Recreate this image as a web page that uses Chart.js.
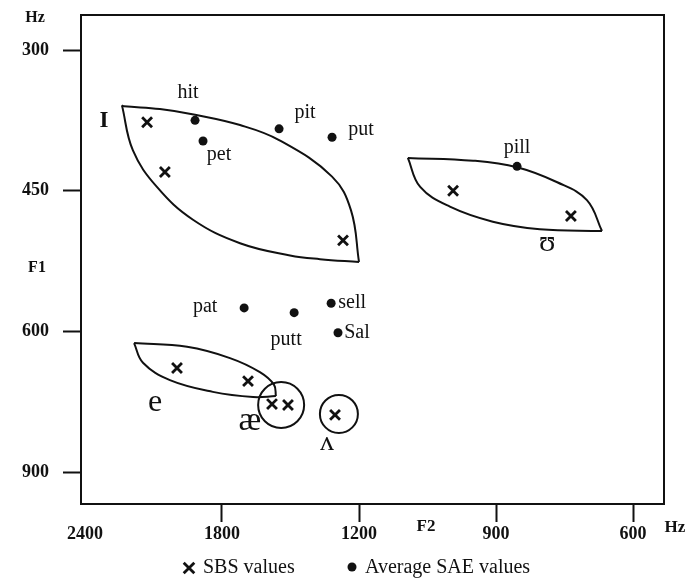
<!DOCTYPE html>
<html>
<head>
<meta charset="utf-8">
<script src="https://cdn.jsdelivr.net/npm/chart.js@4/dist/chart.umd.min.js"></script>
<style>
html,body{margin:0;padding:0;background:#fff;}
#c{display:block;}
</style>
</head>
<body>
<canvas id="c" width="692" height="578"></canvas>
<script>
// ---- axis tick values (Hz) ----
const F2_TICKS = [2400, 1800, 1200, 900, 600];
const F1_TICKS = [300, 450, 600, 900];

// ---- Average SAE values (dots) ----
const SAE_WORDS = ['hit', 'pet', 'pit', 'put', 'pill', 'pat', 'putt', 'sell', 'Sal'];
const SAE_F2 = [1918, 1883, 1550, 1318, 854, 1703, 1484, 1322, 1292];
const SAE_F1 = [375, 397, 384, 393, 424, 575, 580, 570, 603];

// ---- SBS values (x marks) ----
const SBS_F2 = [2128, 2050, 1270, 994, 736, 1997, 1686, 1581, 1511, 1305];
const SBS_F1 = [377, 430, 503, 450, 477, 678, 706, 755, 757, 778];

// ---- vowel symbols and where they sit (Hz) ----
const VOWELS = ['I', 'ʊ', 'e', 'æ', 'ʌ'];
const VOWEL_F2 = [2317, 788, 2093, 1678, 1340];
const VOWEL_F1 = [376, 506, 751, 791, 838];

// ---- vowel-area outlines [F2, F1] ----
const I_UPPER = [[2238,359],[2229,360],[2072,363],[1918,369],[1721,380],[1550,396],[1318,435],[1235,471],[1200,526]];
const I_LOWER = [[2238,359],[2190,407],[2085,446],[1927,481],[1721,506],[1502,519],[1371,523],[1200,526]];
const U_UPPER = [[1093,415],[950,418],[854,425],[766,441],[701,460],[668,493]];
const U_LOWER = [[1093,415],[1066,446],[1001,467],[907,483],[804,491],[668,493]];
const E_UPPER = [[2185,625],[1953,633],[1765,657],[1634,687],[1572,714],[1564,738]];
const E_LOWER = [[2185,625],[2146,667],[2028,704],[1840,729],[1664,740],[1564,738]];
const RING_F2 = [1541, 1288];   // æ and ʌ circles
const RING_F1 = [757, 776];

// ---- map Hz onto the evenly spaced tick positions of the original plot ----
function pos(v, ticks) {
  for (let i = 0; i < ticks.length - 1; i++) {
    const a = ticks[i], b = ticks[i + 1];
    if (v >= Math.min(a, b) && v <= Math.max(a, b)) return i + (v - a) / (b - a);
  }
  if ((ticks[1] - ticks[0]) * (v - ticks[0]) < 0) return (v - ticks[0]) / (ticks[1] - ticks[0]);
  const n = ticks.length - 1;
  return n + (v - ticks[n]) / (ticks[n] - ticks[n - 1]);
}
const toX = v => pos(v, F2_TICKS);
const toY = v => pos(v, F1_TICKS);
const pts = (f2, f1) => f2.map((v, i) => ({x: toX(v), y: toY(f1[i])}));
const path = arr => arr.map(([a, b]) => ({x: toX(a), y: toY(b)}));

const SERIF = '"Liberation Serif", "DejaVu Serif", "Times New Roman", serif';
const INK = '#111';

const outline = arr => ({
  label: '', data: path(arr), showLine: true, tension: 0.4,
  pointRadius: 0, borderColor: INK, borderWidth: 2, fill: false
});

// label offsets (px) for the word labels
const LABEL_DX = [-7, 16, 26, 29, 0, -39, -8, 21, 19];
const LABEL_DY = [-28, 14, -16, -8, -19, -1, 27, -1, 0];
const VOWEL_FONT = ['bold 23px', '30px', '32px', '34px', '28px'];

const framePlugin = {
  id: 'frame',
  beforeDatasetsDraw(chart) {
    const {ctx, chartArea: a} = chart;
    ctx.save();
    ctx.strokeStyle = INK;
    ctx.lineWidth = 2;
    ctx.strokeRect(a.left, a.top, a.right - a.left, a.bottom - a.top);
    ctx.restore();
  }
};

const textPlugin = {
  id: 'texts',
  afterDatasetsDraw(chart) {
    const {ctx, scales: {x, y}} = chart;
    ctx.save();
    ctx.fillStyle = INK;
    ctx.strokeStyle = INK;
    ctx.textAlign = 'center';
    ctx.textBaseline = 'middle';
    ctx.font = '20px ' + SERIF;
    SAE_WORDS.forEach((w, i) => {
      const px = x.getPixelForValue(toX(SAE_F2[i]));
      const py = y.getPixelForValue(toY(SAE_F1[i]));
      ctx.fillText(w, px + LABEL_DX[i], py + LABEL_DY[i]);
    });
    VOWELS.forEach((s, i) => {
      ctx.font = VOWEL_FONT[i] + ' ' + SERIF;
      ctx.fillText(s, x.getPixelForValue(toX(VOWEL_F2[i])), y.getPixelForValue(toY(VOWEL_F1[i])));
    });
    // axis titles
    ctx.font = 'bold 16px ' + SERIF;
    ctx.fillText('Hz', 35, 18);
    ctx.fillText('F1', 37, 268);
    ctx.font = 'bold 17px ' + SERIF;
    ctx.fillText('F2', 426, 527);
    ctx.fillText('Hz', 675, 528);
    // legend
    const ly = 568;
    ctx.font = '20px ' + SERIF;
    ctx.textAlign = 'left';
    ctx.lineWidth = 2.8;
    Chart.helpers.drawPoint(ctx, {pointStyle: 'crossRot', radius: 7.5, borderWidth: 2.8}, 189, ly);
    ctx.fillText('SBS values', 203, ly);
    ctx.beginPath();
    ctx.arc(352, ly - 1, 4.5, 0, Math.PI * 2);
    ctx.fill();
    ctx.fillText('Average SAE values', 365, ly);
    ctx.restore();
  }
};

new Chart(document.getElementById('c'), {
  type: 'scatter',
  data: {
    datasets: [
      {label: 'SBS values', data: pts(SBS_F2, SBS_F1), pointStyle: 'crossRot', pointRadius: 7,
       borderWidth: 2.8, borderColor: INK, backgroundColor: INK},
      {label: 'Average SAE values', data: pts(SAE_F2, SAE_F1), pointStyle: 'circle', pointRadius: 4.5,
       borderWidth: 0, borderColor: INK, backgroundColor: INK},
      {label: '', data: pts(RING_F2, RING_F1), pointStyle: 'circle', pointRadius: [23, 19],
       borderWidth: 2, borderColor: INK, backgroundColor: 'rgba(0,0,0,0)'},
      outline(I_UPPER), outline(I_LOWER),
      outline(U_UPPER), outline(U_LOWER),
      outline(E_UPPER), outline(E_LOWER)
    ]
  },
  options: {
    responsive: false,
    devicePixelRatio: 1,
    animation: false,
    events: [],
    layout: {autoPadding: false, padding: {top: 15, right: 28, left: 0, bottom: 0}},
    plugins: {legend: {display: false}, tooltip: {enabled: false}},
    scales: {
      x: {
        type: 'linear', min: -0.029, max: 4.226,
        afterBuildTicks: s => { s.ticks = F2_TICKS.map((v, i) => ({value: i})); },
        afterFit: s => { s.height = 74; s.paddingLeft = 0; s.paddingRight = 0; },
        ticks: {callback: (v, i) => String(F2_TICKS[i]), color: INK, padding: 2,
                font: {family: SERIF, size: 18, weight: 'bold'}, maxRotation: 0, autoSkip: false},
        grid: {drawOnChartArea: false, drawTicks: true, tickLength: 18, tickWidth: 2,
               tickColor: c => (c.index === 0 ? 'rgba(0,0,0,0)' : INK)},
        border: {display: false}
      },
      y: {
        type: 'linear', min: -0.249, max: 3.227, reverse: true,
        afterBuildTicks: s => { s.ticks = F1_TICKS.map((v, i) => ({value: i})); },
        afterFit: s => { s.width = 81; s.paddingTop = 0; s.paddingBottom = 0; },
        ticks: {callback: (v, i) => String(F1_TICKS[i]), color: INK, padding: 14,
                font: {family: SERIF, size: 18, weight: 'bold'}, autoSkip: false},
        grid: {drawOnChartArea: false, drawTicks: true, tickLength: 18, tickWidth: 2, tickColor: INK},
        border: {display: false}
      }
    }
  },
  plugins: [framePlugin, textPlugin]
});
</script>
</body>
</html>
